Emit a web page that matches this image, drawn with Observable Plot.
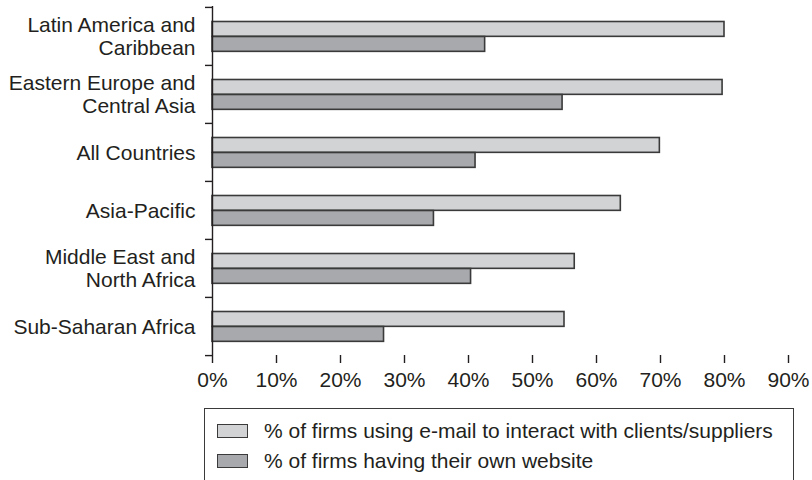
<!DOCTYPE html>
<html>
<head>
<meta charset="utf-8">
<script src="https://cdn.jsdelivr.net/npm/d3@7"></script>
<script src="https://cdn.jsdelivr.net/npm/@observablehq/plot@0.6"></script>
<style>
  html, body { margin: 0; padding: 0; background: #fff; }
  body { width: 812px; height: 480px; overflow: hidden; font-family: "Liberation Sans", Arial, Helvetica, sans-serif; color: #231f20; }
  #chart svg { display: block; }
  #legend { position: relative; width: 812px; height: 80px; }
  #legend .box { position: absolute; left: 204px; top: 8px; width: 590px; height: 90px; border: 1.5px solid #3a3a3a; box-sizing: border-box; }
  #legend .row { position: absolute; left: 217px; height: 16px; display: flex; align-items: center; font-size: 21px; white-space: nowrap; }
  #legend .sw { width: 31px; height: 14px; border: 1.5px solid #3a3a3a; box-sizing: border-box; margin-right: 16px; }
</style>
</head>
<body>
<div id="chart"></div>
<div id="legend"></div>
<script>
const regions = ["Latin America and Caribbean", "Eastern Europe and Central Asia", "All Countries", "Asia-Pacific", "Middle East and North Africa", "Sub-Saharan Africa"];
const regionLabels = ["Latin America and\nCaribbean", "Eastern Europe and\nCentral Asia", "All Countries", "Asia-Pacific", "Middle East and\nNorth Africa", "Sub-Saharan Africa"];
const emailPct = [80.0, 79.7, 69.9, 63.8, 56.6, 55.0];
const websitePct = [42.6, 54.7, 41.1, 34.6, 40.4, 26.8];
const seriesNames = ["% of firms using e-mail to interact with clients/suppliers", "% of firms having their own website"];
const xTicks = [0, 10, 20, 30, 40, 50, 60, 70, 80, 90];

const lightFill = "#d1d3d4";
const darkFill = "#a7a9ac";
const ink = "#231f20";
const barStroke = "#3a3a3a";

const W = 812, H = 400, mt = 6, mb = 45, ml = 212, mr = 24;
const step = (H - mt - mb) / regions.length;

const emailData = regions.map((r, i) => ({region: r, value: emailPct[i]}));
const webData = regions.map((r, i) => ({region: r, value: websitePct[i]}));
const tickLen = 7 / ((W - ml - mr) / 90);

const chart = Plot.plot({
  width: W,
  height: H,
  marginTop: mt,
  marginBottom: mb,
  marginLeft: ml,
  marginRight: mr,
  style: {fontFamily: "'Liberation Sans', Arial, Helvetica, sans-serif", fontSize: "21px", color: ink, background: "#fff"},
  x: {domain: [0, 90]},
  y: {domain: regions, padding: 0},
  marks: [
    Plot.barX(emailData, {y: "region", x: "value", fill: lightFill, stroke: barStroke, strokeWidth: 1.6, insetTop: 14.5, insetBottom: step - 29.5}),
    Plot.barX(webData, {y: "region", x: "value", fill: darkFill, stroke: barStroke, strokeWidth: 1.6, insetTop: 29.5, insetBottom: step - 44.5}),
    Plot.ruleX([0], {stroke: ink, strokeWidth: 1.4}),
    Plot.ruleY(regions, {y: d => d, x1: -tickLen, x2: 0, dy: -step / 2, stroke: ink, strokeWidth: 1.4}),
    Plot.ruleY([regions[regions.length - 1]], {y: d => d, x1: -tickLen, x2: 0, dy: step / 2, stroke: ink, strokeWidth: 1.4}),
    Plot.axisX(xTicks, {tickSize: 8, tickPadding: 9, tickFormat: d => d + "%", line: true, stroke: ink, strokeWidth: 1.4, fill: ink, fontSize: 21, label: null}),
    Plot.axisY({ticks: [], label: null}),
    Plot.text(regions, {y: d => d, x: 0, text: (d, i) => regionLabels[i], dx: -17, textAnchor: "end", lineHeight: 1.07, fontSize: 21, fill: ink})
  ]
});
document.getElementById("chart").appendChild(chart);

const legend = document.getElementById("legend");
const box = document.createElement("div");
box.className = "box";
legend.appendChild(box);
[lightFill, darkFill].forEach((c, i) => {
  const row = document.createElement("div");
  row.className = "row";
  row.style.top = (23 + i * 30) + "px";
  const sw = document.createElement("div");
  sw.className = "sw";
  sw.style.background = c;
  const t = document.createElement("span");
  t.textContent = seriesNames[i];
  row.appendChild(sw);
  row.appendChild(t);
  legend.appendChild(row);
});
</script>
</body>
</html>
